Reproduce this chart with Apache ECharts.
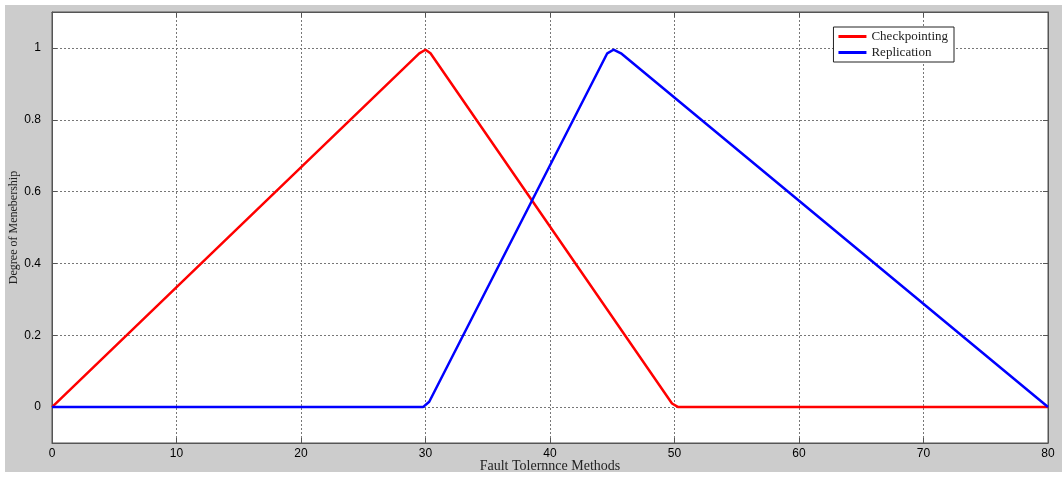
<!DOCTYPE html>
<html><head><meta charset="utf-8">
<script src="https://cdn.jsdelivr.net/npm/echarts@6/dist/echarts.min.js"></script>
<style>html,body{margin:0;padding:0;background:#fff}#c{width:1062px;height:481px}</style>
</head><body><div id="c"></div>
<script>
const seriesNames = ['Checkpointing', 'Replication'];
const checkX = [0, 29.5, 30.0, 30.4, 49.8, 50.3, 80];
const checkY = [0, 0.985, 0.995, 0.985, 0.01, 0, 0];
const replX = [0, 29.8, 30.3, 44.6, 45.1, 45.7, 80];
const replY = [0, 0, 0.015, 0.985, 0.995, 0.985, 0];
const xTicks = [0, 10, 20, 30, 40, 50, 60, 70, 80];
const yTicks = [0, 0.2, 0.4, 0.6, 0.8, 1];

const pair = (xs, ys) => xs.map((x, i) => [x, ys[i]]);
const chart = echarts.init(document.getElementById('c'));
const tickFont = { color: '#000', fontFamily: 'Liberation Sans, Arial, sans-serif', fontSize: 12 };
const gridLine = { show: true, lineStyle: { color: '#777', type: [2, 2], width: 1 } };
const axisLine = { show: true, onZero: false, lineStyle: { color: '#555', width: 1 } };
chart.setOption({
  animation: false,
  backgroundColor: '#fff',
  graphic: [{ type: 'rect', z: -10, shape: { x: 5, y: 5, width: 1057, height: 467 }, style: { fill: '#cccccc' } }],
  grid: { left: 52, right: 14, top: 12, bottom: 38, outerBoundsMode: 'none', containLabel: false,
          show: true, backgroundColor: '#fff', borderColor: '#555', borderWidth: 1 },
  legend: {
    right: 108, top: 27, orient: 'vertical', itemGap: 3, itemWidth: 28, itemHeight: 3,
    backgroundColor: '#fff', borderColor: '#222', borderWidth: 1, padding: [3, 6, 3, 5],
    textStyle: { fontFamily: 'Liberation Serif, Times New Roman, serif', fontSize: 13, color: '#222' },
    icon: 'rect',
    data: seriesNames
  },
  xAxis: [{
    type: 'value', min: 0, max: 80, interval: 10,
    name: 'Fault Tolernnce Methods', nameLocation: 'middle', nameGap: 16, nameMoveOverlap: false,
    nameTextStyle: { fontFamily: 'Liberation Serif, Times New Roman, serif', fontSize: 14, color: '#222' },
    axisLine: axisLine, axisTick: { show: true, inside: true, length: 5, lineStyle: { color: '#555' } },
    axisLabel: Object.assign({ margin: 5, customValues: xTicks }, tickFont),
    splitLine: gridLine
  }, {
    type: 'value', min: 0, max: 80, interval: 10, position: 'top',
    axisLine: axisLine, axisTick: { show: true, inside: true, length: 5, lineStyle: { color: '#555' } },
    axisLabel: { show: false }, splitLine: { show: false }
  }],
  yAxis: [{
    type: 'value', min: -0.1, max: 1.1,
    name: 'Degree of Menebership', nameLocation: 'middle', nameGap: 32, nameMoveOverlap: false,
    nameTextStyle: { fontFamily: 'Liberation Serif, Times New Roman, serif', fontSize: 12, color: '#222' },
    axisLine: axisLine,
    axisTick: { show: true, inside: true, length: 5, customValues: yTicks, lineStyle: { color: '#555' } },
    axisLabel: Object.assign({ margin: 11, customValues: yTicks, formatter: v => String(Math.round(v * 10) / 10) }, tickFont),
    splitLine: gridLine
  }, {
    type: 'value', min: -0.1, max: 1.1, position: 'right',
    axisLine: axisLine,
    axisTick: { show: true, inside: true, length: 5, customValues: yTicks, lineStyle: { color: '#555' } },
    axisLabel: { show: false }, splitLine: { show: false }
  }],
  series: [{
    name: seriesNames[0], type: 'line', data: pair(checkX, checkY), showSymbol: false,
    lineStyle: { color: '#ff0000', width: 2.5 }, itemStyle: { color: '#ff0000' }, z: 3
  }, {
    name: seriesNames[1], type: 'line', data: pair(replX, replY), showSymbol: false,
    lineStyle: { color: '#0000ff', width: 2.5 }, itemStyle: { color: '#0000ff' }, z: 4
  }]
});
</script></body></html>
